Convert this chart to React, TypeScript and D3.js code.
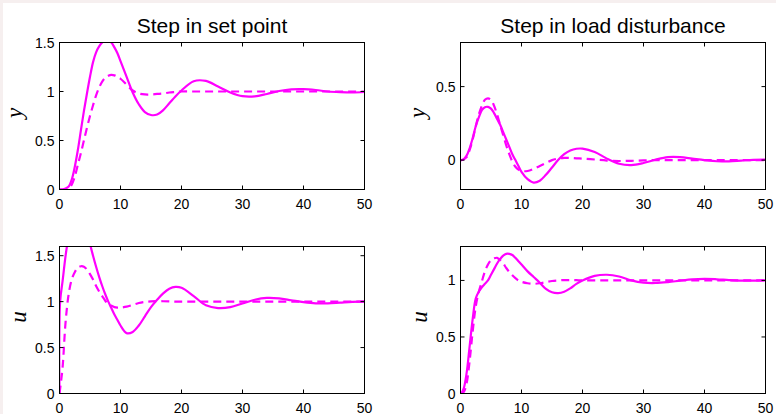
import * as d3 from "d3";

// time samples shared by all series
const T = [0, 0.1, 0.5, 1, 1.5, 2, 2.5, 3, 3.5, 4, 4.5, 5, 5.5, 6, 6.5, 7, 7.5, 8, 8.5, 9, 9.5, 10, 11, 12, 13, 14, 15, 16, 17, 18, 19, 20, 22, 24, 26, 28, 30, 32, 34, 36, 38, 40, 42, 44, 46, 48, 50];

// step in set point, output y
const ySetSolid = [0, 0, 0, 0.01, 0.03, 0.1, 0.23, 0.4, 0.6, 0.8, 0.98, 1.15, 1.3, 1.4, 1.46, 1.5, 1.52, 1.52, 1.5, 1.45, 1.39, 1.31, 1.15, 0.99, 0.87, 0.79, 0.76, 0.765, 0.81, 0.88, 0.95, 1.01, 1.105, 1.108, 1.05, 0.99, 0.952, 0.95, 0.975, 1.005, 1.022, 1.024, 1.015, 1.0, 0.993, 0.99, 0.995];
const ySetDashed = [0, 0, 0, 0, 0.01, 0.05, 0.13, 0.25, 0.37, 0.5, 0.63, 0.75, 0.86, 0.96, 1.04, 1.1, 1.14, 1.16, 1.17, 1.165, 1.15, 1.13, 1.07, 1.01, 0.98, 0.97, 0.97, 0.975, 0.98, 0.99, 0.995, 1.0, 1, 1, 1, 1, 1, 1, 1, 1, 1, 1, 1, 1, 1, 1, 1];

// step in load disturbance, output y
const yLoadSolid = [0, 0, 0.005, 0.03, 0.08, 0.15, 0.23, 0.29, 0.34, 0.36, 0.362, 0.35, 0.32, 0.28, 0.24, 0.19, 0.14, 0.09, 0.04, 0.0, -0.04, -0.08, -0.13, -0.153, -0.14, -0.1, -0.05, 0.0, 0.04, 0.065, 0.077, 0.078, 0.055, 0.01, -0.025, -0.034, -0.02, 0.003, 0.02, 0.02, 0.01, 0.0, -0.008, -0.008, -0.003, 0.002, 0.003];
const yLoadDashed = [0, 0, 0.005, 0.02, 0.07, 0.14, 0.23, 0.31, 0.37, 0.41, 0.42, 0.41, 0.37, 0.31, 0.24, 0.17, 0.1, 0.04, -0.01, -0.045, -0.065, -0.074, -0.074, -0.06, -0.04, -0.02, 0.0, 0.01, 0.015, 0.015, 0.012, 0.01, 0.004, -0.003, -0.006, -0.005, -0.002, 0, 0, 0, 0, 0, 0, 0, 0, 0, 0];

// step in set point, control u
const uSetSolid = [0, 1.0, 1.22, 1.5, 1.72, 1.9, 2.0, 2.05, 2.03, 1.95, 1.8, 1.63, 1.5, 1.38, 1.27, 1.17, 1.08, 1.0, 0.93, 0.86, 0.8, 0.74, 0.657, 0.67, 0.74, 0.84, 0.94, 1.02, 1.09, 1.14, 1.16, 1.15, 1.06, 0.96, 0.93, 0.94, 0.98, 1.02, 1.04, 1.035, 1.015, 0.995, 0.982, 0.982, 0.99, 0.998, 1.003];
const uSetDashed = [0, 0.05, 0.28, 0.78, 1.08, 1.24, 1.32, 1.37, 1.385, 1.38, 1.35, 1.3, 1.24, 1.17, 1.11, 1.06, 1.01, 0.975, 0.955, 0.94, 0.935, 0.935, 0.945, 0.965, 0.985, 0.997, 1.003, 1.005, 1.004, 1.002, 1.0, 1.0, 1, 1, 1, 1, 1, 1, 1, 1, 1, 1, 1, 1, 1, 1, 1];

// step in load disturbance, control u
const uLoadSolid = [0, 0, 0.04, 0.18, 0.42, 0.66, 0.84, 0.9, 0.94, 0.97, 1.0, 1.05, 1.1, 1.15, 1.19, 1.22, 1.235, 1.235, 1.225, 1.2, 1.17, 1.14, 1.08, 1.03, 0.98, 0.925, 0.895, 0.888, 0.9, 0.93, 0.97, 1.0, 1.04, 1.05, 1.035, 1.0, 0.98, 0.977, 0.985, 0.998, 1.01, 1.014, 1.01, 1.003, 0.998, 0.998, 1.0];
const uLoadDashed = [0, 0, 0.01, 0.09, 0.29, 0.55, 0.77, 0.9, 0.99, 1.08, 1.14, 1.18, 1.195, 1.2, 1.18, 1.15, 1.11, 1.075, 1.045, 1.02, 1.0, 0.988, 0.975, 0.97, 0.975, 0.985, 0.995, 1.0, 1.003, 1.003, 1.002, 1.0, 1, 1, 1, 1, 1, 1, 1, 1, 1, 1, 1, 1, 1, 1, 1];

const xTicks = [0, 10, 20, 30, 40, 50];
const titles = ["Step in set point", "Step in load disturbance"];

const width = 776,
  height = 414;
const col = [
  { left: 59.5, right: 364.5 },
  { left: 460.5, right: 765.5 },
];
const row = [
  { top: 42.5, bottom: 189.5 },
  { top: 246.5, bottom: 393.5 },
];

const panels = [
  { c: 0, r: 0, label: "y", domain: [0, 1.5], ticks: [0, 0.5, 1, 1.5], solid: ySetSolid, dashed: ySetDashed, lx: -38 },
  { c: 1, r: 0, label: "y", domain: [-0.2, 0.8], ticks: [0, 0.5], solid: yLoadSolid, dashed: yLoadDashed, lx: -36 },
  { c: 0, r: 1, label: "u", domain: [0, 1.6], ticks: [0, 0.5, 1, 1.5], solid: uSetSolid, dashed: uSetDashed, lx: -34 },
  { c: 1, r: 1, label: "u", domain: [0, 1.3], ticks: [0, 0.5, 1], solid: uLoadSolid, dashed: uLoadDashed, lx: -34 },
];

const magenta = "#ff00ff";
const sans = "'Liberation Sans', Arial, sans-serif";
const tickLen = 4;

function Panel({ p, i }: { p: any; i: number }) {
  const { left, right } = col[p.c];
  const { top, bottom } = row[p.r];
  const x = d3.scaleLinear().domain([0, 50]).range([left, right]);
  const y = d3.scaleLinear().domain(p.domain).range([bottom, top]);
  const line = d3
    .line<number>()
    .x((_, k) => x(T[k]))
    .y((d) => y(d))
    .curve(d3.curveCatmullRom.alpha(0.5));
  const clipId = `clip-${i}`;
  const midY = (top + bottom) / 2 - 3;

  return (
    <g>
      <clipPath id={clipId}>
        <rect x={left} y={top} width={right - left} height={bottom - top} />
      </clipPath>
      <rect x={left} y={top} width={right - left} height={bottom - top} fill="#fff" />
      <g clipPath={`url(#${clipId})`} fill="none" stroke={magenta} strokeWidth={2.2}>
        <path d={line(p.dashed) || ""} strokeDasharray="8,5" />
        <path d={line(p.solid) || ""} />
      </g>
      <rect x={left} y={top} width={right - left} height={bottom - top} fill="none" stroke="#000" strokeWidth={1} />
      {xTicks.map((t) => (
        <g key={"x" + t}>
          <line x1={x(t)} x2={x(t)} y1={bottom} y2={bottom - tickLen} stroke="#000" />
          <line x1={x(t)} x2={x(t)} y1={top} y2={top + tickLen} stroke="#000" />
          <text x={x(t)} y={bottom + 19} textAnchor="middle" fontSize={14} fontFamily={sans} fill="#000">
            {t}
          </text>
        </g>
      ))}
      {p.ticks.map((v: number) => (
        <g key={"y" + v}>
          <line x1={left} x2={left + tickLen} y1={y(v)} y2={y(v)} stroke="#000" />
          <line x1={right} x2={right - tickLen} y1={y(v)} y2={y(v)} stroke="#000" />
          <text x={left - 5} y={y(v)} dy="0.36em" textAnchor="end" fontSize={14} fontFamily={sans} fill="#000">
            {String(v)}
          </text>
        </g>
      ))}
      <text
        transform={`translate(${left + p.lx},${midY}) rotate(-90)`}
        textAnchor="middle"
        fontSize={23}
        fontStyle="italic"
        fontFamily="'Liberation Serif', 'Times New Roman', serif"
        fill="#000"
      >
        {p.label}
      </text>
      {p.r === 0 && (
        <text x={(left + right) / 2} y={32.5} textAnchor="middle" fontSize={21} fontFamily={sans} fill="#000">
          {titles[p.c]}
        </text>
      )}
    </g>
  );
}

export default function App() {
  return (
    <svg width={width} height={height} style={{ position: "absolute", left: 0, top: 0 }}>
      <rect width={width} height={height} fill="#f6efef" />
      <rect x={3} y={3} width={width - 3} height={height - 3} fill="#fff" />
      {panels.map((p, i) => (
        <Panel key={i} p={p} i={i} />
      ))}
    </svg>
  );
}
